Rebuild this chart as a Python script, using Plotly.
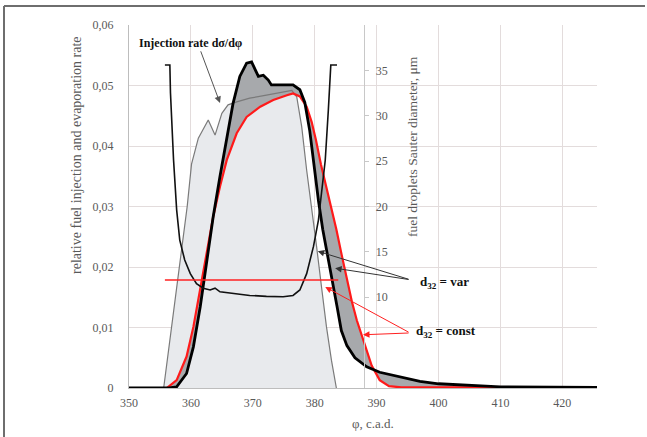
import plotly.graph_objects as go

# Crank angle axis (c.a.d.)
phi_inj = [355.6, 357.4, 358.6, 359.4, 360.1, 361.2, 362.8, 363.9, 365.0, 366.0, 367.4, 369.5,
           372.2, 374.9, 376.3, 377.1, 377.9, 378.7, 379.5, 380.3, 381.1, 381.9, 382.7, 383.5]
inj_rate = [0, 0.014, 0.024, 0.030, 0.037, 0.0413, 0.0443, 0.0418, 0.0454, 0.0468, 0.0473, 0.0479,
            0.0484, 0.0490, 0.0492, 0.0481, 0.0432, 0.036, 0.030, 0.0234, 0.0167, 0.0101, 0.0046, 0]

phi_var = [350, 356.5, 357.7, 359.3, 360.4, 361.5, 362.6, 363.6, 364.7, 365.8, 366.8, 367.9, 369.0,
           369.8, 370.4, 370.9, 371.7, 372.5, 373.0, 374.4, 376.5, 377.6, 378.4, 379.2, 380.0, 380.6,
           381.3, 382.1, 382.9, 383.6, 384.3, 385.2, 386.5, 388.4, 390.5, 393.8, 397.0, 400.0, 405.0,
           410.0, 426.0]
evap_var = [0, 0, 0.0002, 0.0024, 0.0068, 0.0134, 0.0212, 0.0283, 0.035, 0.041, 0.047, 0.0515, 0.0537,
            0.0539, 0.0526, 0.0515, 0.0517, 0.0509, 0.0501, 0.0501, 0.0501, 0.0493, 0.0472, 0.0425, 0.0355,
            0.0310, 0.0262, 0.0218, 0.0179, 0.0135, 0.0095, 0.0070, 0.0050, 0.0035, 0.0026, 0.0018, 0.0011,
            0.0007, 0.0004, 0.0002, 0.0001]

phi_const = [350, 356.1, 357.7, 359.3, 360.4, 361.5, 362.6, 363.6, 364.7, 365.8, 367.4, 369.0, 371.2,
             373.3, 375.5, 376.5, 377.6, 378.7, 379.5, 380.2, 381.0, 381.8, 382.5, 383.5, 384.4, 385.2,
             386.0, 386.8, 387.6, 388.4, 389.2, 390.5, 392.0, 394.0, 426.0]
evap_const = [0, 0, 0.0013, 0.0052, 0.0101, 0.0162, 0.0223, 0.0283, 0.0333, 0.0377, 0.0421, 0.0448,
              0.0465, 0.0476, 0.0484, 0.0487, 0.0482, 0.0465, 0.0440, 0.0410, 0.0370, 0.0336, 0.0308,
              0.0262, 0.0218, 0.0179, 0.0143, 0.0112, 0.0086, 0.0060, 0.0037, 0.0013, 0.0003, 0.0001,
              0.0001]

phi_d32 = [355.8, 356.6, 356.7, 357.2, 357.7, 358.2, 359.0, 359.9, 360.9, 362.0, 363.1, 363.9, 364.7,
           366.8, 369.5, 372.2, 374.9, 376.5, 377.6, 378.7, 379.8, 380.6, 381.1, 381.7, 382.2, 382.5,
           382.6, 383.6]
d32_var = [35.6, 35.6, 32.5, 25.1, 19.6, 16.3, 14.1, 12.6, 11.5, 11.0, 10.8, 11.0, 10.6,
           10.4, 10.2, 10.1, 10.05, 10.2, 10.8, 12.6, 15.6, 18.5, 21.4, 25.1, 30.6, 35.0,
           35.6, 35.6]

phi_d32c = [355.8, 383.8]
d32_const = [11.9, 11.9]

x_ticks = [350, 360, 370, 380, 390, 400, 410, 420]
y_ticks = [0, 0.01, 0.02, 0.03, 0.04, 0.05, 0.06]
y_ticklabels = ["0", "0,01", "0,02", "0,03", "0,04", "0,05", "0,06"]
y2_ticks = [10, 15, 20, 25, 30, 35]

FONT = "Liberation Serif"
TICKC = "#595959"

fig = go.Figure()
# light fill under injection rate
fig.add_trace(go.Scatter(x=phi_inj, y=inj_rate, mode="lines", line=dict(width=0, color="rgba(0,0,0,0)"),
                         fill="tozeroy", fillcolor="#e8eaed", hoverinfo="skip", showlegend=False))
# base for band fill (const)
fig.add_trace(go.Scatter(x=phi_const, y=evap_const, mode="lines", line=dict(width=0, color="rgba(0,0,0,0)"),
                         hoverinfo="skip", showlegend=False))
# band between var and const
fig.add_trace(go.Scatter(x=phi_var, y=evap_var, mode="lines", line=dict(width=0, color="rgba(0,0,0,0)"),
                         fill="tonexty", fillcolor="#a7a9ac", hoverinfo="skip", showlegend=False))
# injection rate line
fig.add_trace(go.Scatter(x=phi_inj, y=inj_rate, mode="lines", line=dict(width=1.2, color="#7a7a7a"),
                         showlegend=False))
# evaporation const
fig.add_trace(go.Scatter(x=phi_const, y=evap_const, mode="lines", line=dict(width=2.2, color="#ff1a1a"),
                         showlegend=False))
# evaporation var
fig.add_trace(go.Scatter(x=phi_var, y=evap_var, mode="lines", line=dict(width=2.8, color="#000000"),
                         showlegend=False))
# Sauter diameter var
fig.add_trace(go.Scatter(x=phi_d32, y=d32_var, mode="lines", yaxis="y2",
                         line=dict(width=1.6, color="#111111"), showlegend=False))
# Sauter diameter const
fig.add_trace(go.Scatter(x=phi_d32c, y=d32_const, mode="lines", yaxis="y2",
                         line=dict(width=1.5, color="#ff2020"), showlegend=False))

xr = [350, 425.6]
pos2 = (388 - xr[0]) / (xr[1] - xr[0])

fig.update_layout(
    width=647, height=437,
    margin=dict(l=129, r=50, t=25, b=49),
    plot_bgcolor="white", paper_bgcolor="white",
    font=dict(family=FONT, color=TICKC, size=12),
    xaxis=dict(range=xr, tickvals=x_ticks, showgrid=True, gridcolor="#e3dcdc", gridwidth=1,
               showline=True, linecolor="#bdbdbd", zeroline=False, ticks="",
               tickfont=dict(family=FONT, size=12, color=TICKC), ticklabelstandoff=4),
    yaxis=dict(range=[0, 0.06], tickvals=y_ticks, ticktext=y_ticklabels, showgrid=True,
               gridcolor="#e3dcdc", gridwidth=1, showline=True, linecolor="#bdbdbd",
               zeroline=False, ticks="", tickfont=dict(family=FONT, size=12, color=TICKC),
               ticklabelstandoff=12),
    yaxis2=dict(range=[0, 40], overlaying="y", anchor="free", position=pos2, side="right",
                tickvals=y2_ticks, showgrid=False, showline=True, linecolor="#c8c8c8",
                zeroline=False, ticks="outside", ticklen=4, tickcolor="#c8c8c8",
                tickfont=dict(family=FONT, size=12, color=TICKC), ticklabelstandoff=4),
)

L, R, T, B = 129, 597, 25, 388
def px(xp):
    return (xp - L) / (R - L)
def py(yp):
    return (B - yp) / (B - T)

C = dict(xanchor="center", yanchor="middle")
annots = []
# axis titles
annots.append(dict(x=px(77), y=py(155), xref="paper", yref="paper",
                   text="relative fuel injection and evaporation rate", textangle=-90,
                   showarrow=False, font=dict(family=FONT, size=14, color=TICKC), **C))
annots.append(dict(x=px(412), y=py(147), xref="paper", yref="paper",
                   text="fuel droplets Sauter diameter, μm", textangle=-90,
                   showarrow=False, font=dict(family=FONT, size=13.5, color=TICKC), **C))
annots.append(dict(x=px(373), y=py(423), xref="paper", yref="paper", text="φ, c.a.d.",
                   showarrow=False, font=dict(family=FONT, size=13, color=TICKC), **C))
# labels
annots.append(dict(x=360.0, y=0.0570, xref="x", yref="y", text="<b>Injection rate dσ/dφ</b>",
                   showarrow=False, font=dict(family=FONT, size=12, color="#111111"), **C))
annots.append(dict(x=364.7, y=0.0471, ax=361.5, ay=0.0559, xref="x", yref="y", axref="x", ayref="y",
                   text="", showarrow=True, arrowhead=2, arrowsize=1.3, arrowwidth=1, arrowcolor="#555555"))
annots.append(dict(x=401.0, y=0.0175, xref="x", yref="y", text="<b>d<sub>32</sub> = var</b>",
                   showarrow=False, font=dict(family=FONT, size=13, color="#111111"), **C))
annots.append(dict(x=401.2, y=0.0093, xref="x", yref="y", text="<b>d<sub>32</sub> = const</b>",
                   showarrow=False, font=dict(family=FONT, size=13, color="#111111"), **C))
for hx, hy in [(380.5, 0.0226), (383.3, 0.0198)]:
    annots.append(dict(x=hx, y=hy, ax=395.4, ay=0.0179, xref="x", yref="y", axref="x", ayref="y",
                       text="", showarrow=True, arrowhead=2, arrowsize=1.3, arrowwidth=1,
                       arrowcolor="#333333"))
for hx, hy in [(381.7, 0.0167), (387.8, 0.0088)]:
    annots.append(dict(x=hx, y=hy, ax=395.4, ay=0.0091, xref="x", yref="y", axref="x", ayref="y",
                       text="", showarrow=True, arrowhead=2, arrowsize=1.3, arrowwidth=1,
                       arrowcolor="#ff2020"))
fig.update_layout(annotations=annots)

# outer frame (left and top)
fig.add_shape(type="line", xref="paper", yref="paper", x0=px(4), x1=px(4), y0=py(6), y1=py(437),
              line=dict(color="#6e6e6e", width=2))
fig.add_shape(type="line", xref="paper", yref="paper", x0=px(4), x1=px(645), y0=py(6), y1=py(6),
              line=dict(color="#6e6e6e", width=2))

fig.write_html("out.html")
